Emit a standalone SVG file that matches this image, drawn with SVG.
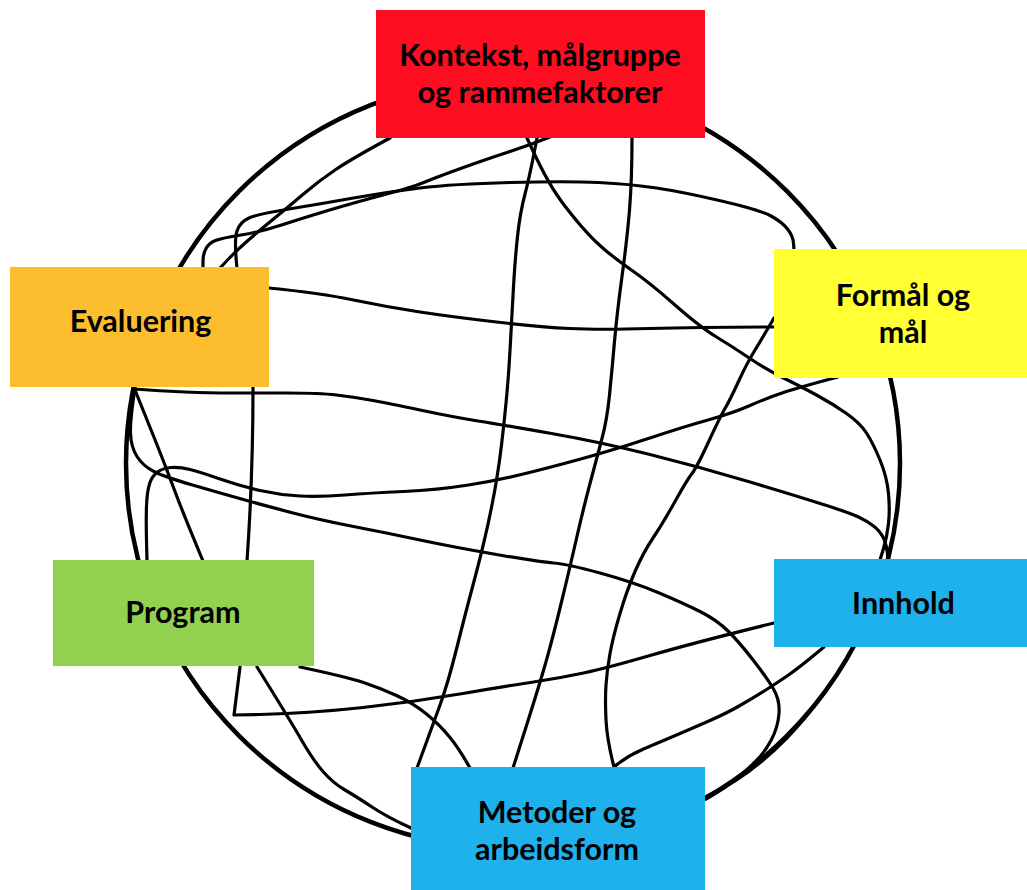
<svg xmlns="http://www.w3.org/2000/svg" width="1027" height="890" viewBox="0 0 1027 890">
<style>
.ln{fill:none;stroke:#000;stroke-width:3.2;stroke-linecap:round;stroke-linejoin:round}
.ring{fill:none;stroke:#000;stroke-width:4.5}
.lbl{font-family:Lato,"Liberation Sans",sans-serif;font-weight:bold;font-size:30.5px;fill:#000;text-anchor:middle}
</style>
<rect width="1027" height="890" fill="#fff"/>
<g id="connectors">
<ellipse class="ring" cx="513" cy="463.5" rx="387" ry="385.5"/>
<path class="ln" d="M853,648 C815,715 765,770 707,796"/>
<path class="ln" d="M237,268 Q234,240 237,231 Q240,222 249,218 Q258,214 289,209 Q320,204 353.5,198 Q387,192 420,188 Q453,184 510,182.5 Q567,181 598.5,182.5 Q630,184 656.5,188 Q683,192 721.5,201 Q760,210 771,216 Q782,222 787.5,229 Q793,236 793.5,243 L794,250"/>
<path class="ln" d="M550,137 Q530,145 508.5,152 Q487,159 462,168 Q437,177 425,182 Q413,187 383,195 Q353,203 328,210.5 Q303,218 281.5,225 Q260,232 241,235 Q222,238 215.5,240.5 Q209,243 206,248.5 Q203,254 203,261 L203,268"/>
<path class="ln" d="M390,138 Q353,158 336.5,169 Q320,180 303.5,194 Q287,208 273.5,219 Q260,230 248.5,240 Q237,250 228.5,259 L220,268"/>
<path class="ln" d="M537,138 Q530,175 525,194 Q520,213 517.5,236.5 Q515,260 513.5,286.5 Q512,313 510.5,341.5 Q509,370 507,392.5 Q505,415 501.5,445 Q498,475 491.5,507.5 Q485,540 475,577.5 Q465,615 456.5,649 Q448,683 440,705 Q432,727 424.5,747.5 L417,768"/>
<path class="ln" d="M632,138 Q632,180 629.5,210 Q627,240 622,276.5 Q617,313 614.5,341.5 Q612,370 609.5,395 Q607,420 602,438.5 Q597,457 590,483.5 Q583,510 576.5,538.5 Q570,567 561.5,602 Q553,637 546.5,660 Q540,683 526.5,725.5 L513,768"/>
<path class="ln" d="M527,138 Q537,160 545,175 Q553,190 561.5,201.5 Q570,213 581.5,226.5 Q593,240 605,250 Q617,260 633.5,271.5 Q650,283 675,305 Q700,327 716.5,337 Q733,347 750,358.5 Q767,370 783.5,378 Q800,386 816.5,395 Q833,404 846.5,413.5 Q860,423 866.5,433 Q873,443 880,460 Q887,477 888.5,493.5 Q890,510 888.5,523.5 Q887,537 883.5,548.5 L880,560"/>
<path class="ln" d="M269,288 Q320,293 353.5,300 Q387,307 420,312 Q453,317 496.5,322 Q540,327 570,328.5 Q600,330 650,328.5 Q700,327 774,327"/>
<path class="ln" d="M774,318 Q763,337 755,350 Q747,363 738.5,381.5 Q730,400 725,408.5 Q720,417 708.5,442 Q697,467 692,473.5 Q687,480 675,501.5 Q663,523 653,538 Q643,553 635,571.5 Q627,590 620,613.5 Q613,637 610,653.5 Q607,670 606,685 Q605,700 606,720 Q607,740 614,767 Q627,756 643.5,749 Q660,742 676.5,735 Q693,728 710,720.5 Q727,713 740,705.5 Q753,698 765,690.5 Q777,683 788.5,675 Q800,667 824,647"/>
<path class="ln" d="M838,377 Q800,387 783.5,392.5 Q767,398 750,405.5 Q733,413 708,420 Q683,427 653,437 Q623,447 595,455 Q567,463 533.5,471.5 Q500,480 468.5,485 Q437,490 403.5,491.5 Q370,493 345,495 Q320,497 300,496 Q280,495 260,490.5 Q240,486 220,479 Q200,472 190,469.5 Q180,467 171.5,467.5 Q163,468 157.5,472 Q152,476 149.5,484 Q147,492 146.5,506 Q146,520 146.5,540.5 L147,561"/>
<path class="ln" d="M134,389 Q160,391 185,392 Q210,393 231.5,393 Q253,393 286.5,393 Q320,393 336.5,395 Q353,397 370,400 Q387,403 420,410 Q453,417 478,421 Q503,425 551.5,433.5 Q600,442 650,454.5 Q700,467 750,482 Q800,497 825,505 Q850,513 858.5,517 Q867,521 873.5,526 Q880,531 883.5,538 Q887,545 888,559"/>
<path class="ln" d="M135,388 Q130,420 130.5,433.5 Q131,447 137,456.5 Q143,466 154,471.5 Q165,477 192.5,485 Q220,493 245,500 Q270,507 295,513.5 Q320,520 353.5,526.5 Q387,533 420,540 Q453,547 496.5,554.5 Q540,562 553.5,563 Q567,564 600,573 Q633,582 658,592.5 Q683,603 700,611.5 Q717,620 728.5,631.5 Q740,643 753.5,660.5 Q767,678 773.5,689 Q780,700 779,713.5 Q778,727 771.5,739.5 Q765,752 756,761 Q747,770 737,778.5 Q727,787 706,799"/>
<path class="ln" d="M135,390 Q150,427 158.5,448.5 Q167,470 175,491.5 Q183,513 203,561"/>
<path class="ln" d="M257,667 Q290,720 301.5,740 Q313,760 323,771.5 Q333,783 345,790 Q357,797 372,807 Q387,817 411,828"/>
<path class="ln" d="M253,387 C253,440 252,490 247,561"/>
<path class="ln" d="M240,667 L234,715 L260,714.5 Q313,713 363,707.5 Q413,702 463,693.5 Q513,685 536.5,681.5 Q560,678 583.5,673 Q607,668 650,655.5 Q693,643 774,623"/>
<path class="ln" d="M300,667 Q347,677 363.5,682.5 Q380,688 396.5,695.5 Q413,703 426.5,714 Q440,725 450,737.5 Q460,750 470,768"/>
</g>
<g id="node-kontekst">
<rect x="376" y="10" width="329" height="128" fill="#FE0C1F"/>
<text class="lbl" x="540" y="66">Kontekst, målgruppe</text>
<text class="lbl" x="540" y="103">og rammefaktorer</text>
</g>
<g id="node-formal">
<rect x="774" y="249" width="253" height="129" fill="#FFFF33"/>
<text class="lbl" x="903" y="306">Formål og</text>
<text class="lbl" x="903" y="343">mål</text>
</g>
<g id="node-evaluering">
<rect x="10" y="267" width="259" height="120" fill="#FCBD2E"/>
<text class="lbl" x="140.5" y="332">Evaluering</text>
</g>
<g id="node-program">
<rect x="53" y="560" width="261" height="106" fill="#92D050"/>
<text class="lbl" x="183" y="623">Program</text>
</g>
<g id="node-innhold">
<rect x="774" y="559" width="253" height="88" fill="#1FB1EC"/>
<text class="lbl" x="903.5" y="614">Innhold</text>
</g>
<g id="node-metoder">
<rect x="411" y="767" width="294" height="123" fill="#1FB1EC"/>
<text class="lbl" x="557" y="823">Metoder og</text>
<text class="lbl" x="557" y="860">arbeidsform</text>
</g>
</svg>
